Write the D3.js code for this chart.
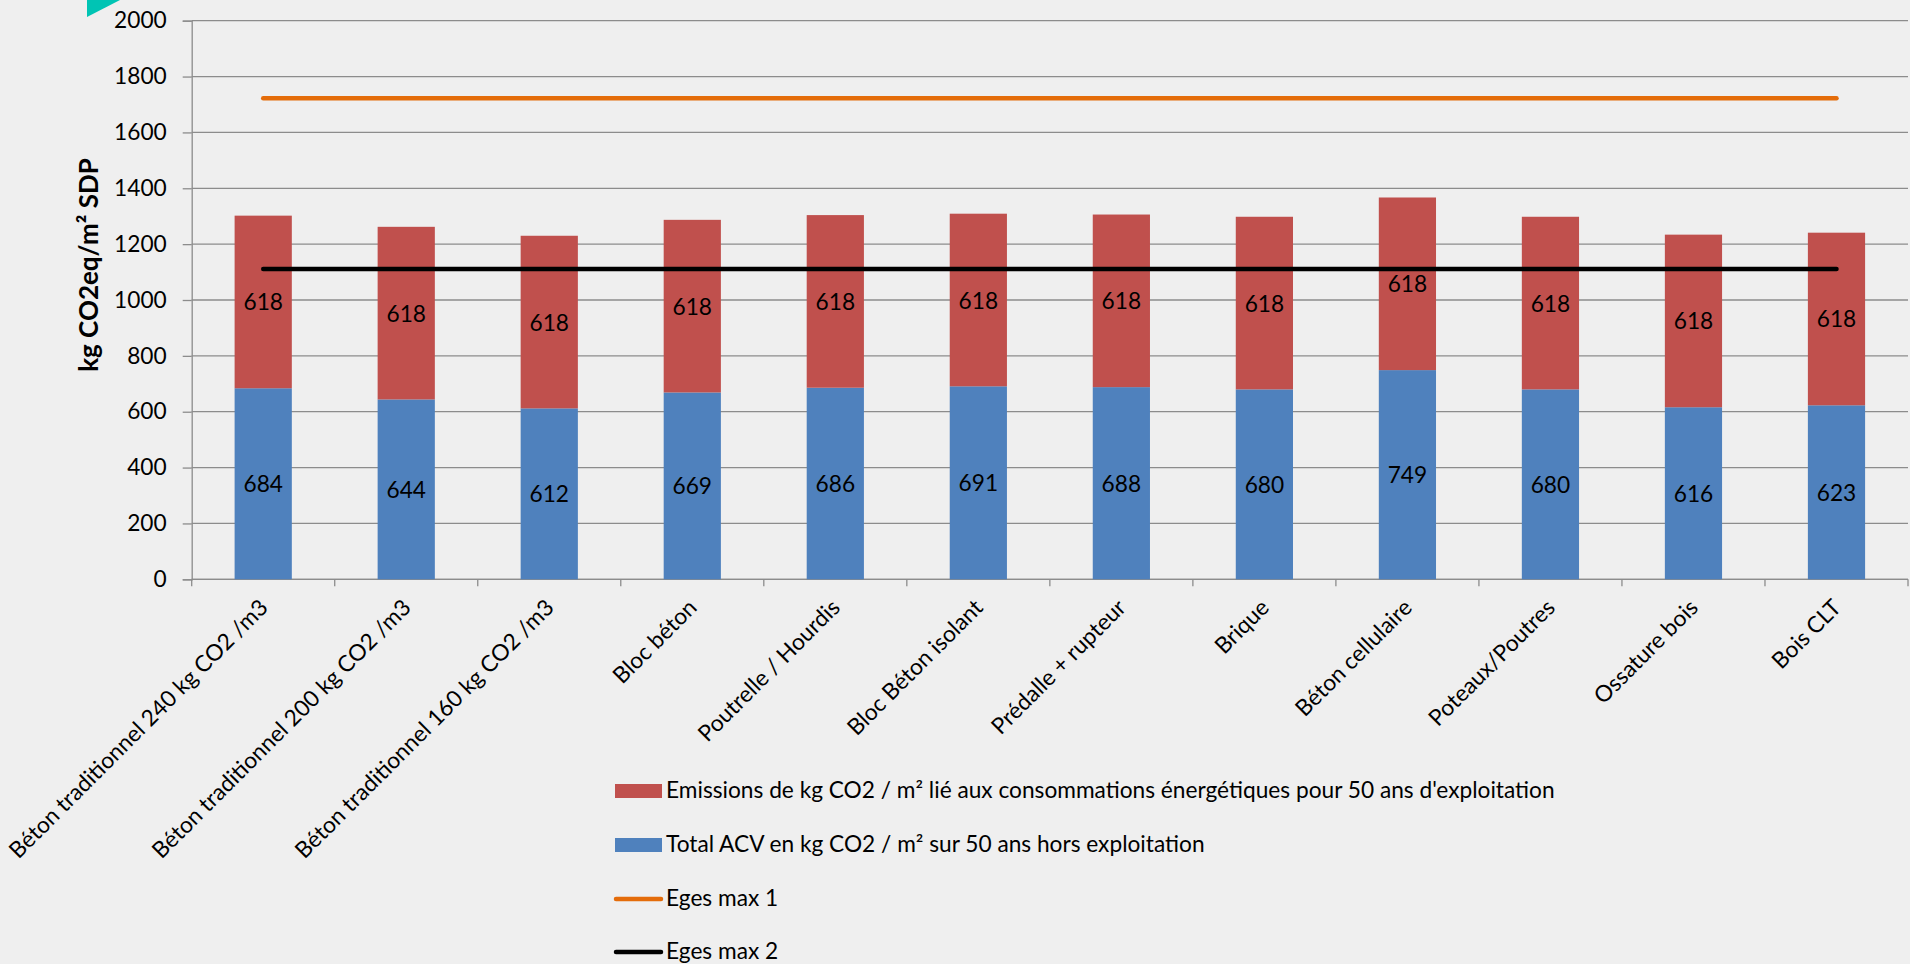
<!DOCTYPE html>
<html>
<head>
<meta charset="utf-8">
<script src="https://cdn.jsdelivr.net/npm/d3@7"></script>
<style>
  body { margin: 0; background: #efefef; }
  text { font-family: Lato, "Open Sans", sans-serif; fill: #000; }
</style>
</head>
<body>
<div class="chart"></div>
<script>
// Categories (x axis)
const categories = [
  "Béton traditionnel 240 kg CO2 /m3",
  "Béton traditionnel 200 kg CO2 /m3",
  "Béton traditionnel 160 kg CO2 /m3",
  "Bloc béton",
  "Poutrelle / Hourdis",
  "Bloc Béton isolant",
  "Prédalle + rupteur",
  "Brique",
  "Béton cellulaire",
  "Poteaux/Poutres",
  "Ossature bois",
  "Bois CLT"
];
// Stacked series
const acvValues = [684, 644, 612, 669, 686, 691, 688, 680, 749, 680, 616, 623];
const energyValues = [618, 618, 618, 618, 618, 618, 618, 618, 618, 618, 618, 618];
// Threshold lines
const egesMax1 = [1722, 1722, 1722, 1722, 1722, 1722, 1722, 1722, 1722, 1722, 1722, 1722];
const egesMax2 = [1111, 1111, 1111, 1111, 1111, 1111, 1111, 1111, 1111, 1111, 1111, 1111];
const yTicks = [0, 200, 400, 600, 800, 1000, 1200, 1400, 1600, 1800, 2000];

const seriesNames = [
  "Emissions de kg CO2 / m² lié aux consommations énergétiques pour 50 ans d'exploitation",
  "Total ACV en kg CO2 / m² sur 50 ans hors exploitation",
  "Eges max 1",
  "Eges max 2"
];
const colors = { energy: "#c0504d", acv: "#4f81bd", max1: "#e46c0a", max2: "#000000" };

const width = 1910, height = 964;
const plot = { left: 191.7, right: 1908, top: 20.7, bottom: 579.3 };
const fontSize = "22.7px";

const svg = d3.select(".chart").append("svg")
  .attr("width", width)
  .attr("height", height);

svg.append("rect")
  .attr("width", width).attr("height", height)
  .attr("fill", "#efefef");

// Small teal corner decoration
svg.append("polygon")
  .attr("points", "87,0 87,17 120,0")
  .attr("fill", "#00c4b4");

const x = d3.scaleBand()
  .domain(categories)
  .range([plot.left, plot.right])
  .paddingInner(0.6)
  .paddingOuter(0.3);
const y = d3.scaleLinear().domain([0, 2000]).range([plot.bottom, plot.top]);
const cx = d => x(d) + x.bandwidth() / 2;
const step = x.step();

// Gridlines
svg.append("g")
  .selectAll("line")
  .data(yTicks)
  .join("line")
  .attr("x1", plot.left).attr("x2", plot.right)
  .attr("y1", d => y(d)).attr("y2", d => y(d))
  .attr("stroke", "#8c8c8c")
  .attr("stroke-width", 1.3);

// Y axis
const yAxis = svg.append("g")
  .attr("transform", `translate(${plot.left},0)`)
  .call(d3.axisLeft(y).tickValues(yTicks).tickFormat(d3.format("d")).tickSize(9).tickPadding(16));
yAxis.select(".domain").attr("stroke", "#8c8c8c").attr("stroke-width", 1.3);
yAxis.selectAll(".tick line").attr("stroke", "#8c8c8c").attr("stroke-width", 1.3);
yAxis.selectAll(".tick text")
  .style("font-family", "Lato, sans-serif")
  .style("font-size", fontSize)
  .attr("fill", "#000");

// X axis line and tick marks at category boundaries
svg.append("line")
  .attr("x1", plot.left).attr("x2", plot.right)
  .attr("y1", plot.bottom).attr("y2", plot.bottom)
  .attr("stroke", "#8c8c8c").attr("stroke-width", 1.3);
svg.append("g")
  .selectAll("line")
  .data(d3.range(categories.length + 1))
  .join("line")
  .attr("x1", i => plot.left + i * step).attr("x2", i => plot.left + i * step)
  .attr("y1", plot.bottom).attr("y2", plot.bottom + 7)
  .attr("stroke", "#8c8c8c").attr("stroke-width", 1.3);

// Category labels, rotated
svg.append("g")
  .selectAll("text")
  .data(categories)
  .join("text")
  .attr("transform", d => `translate(${cx(d) - 6},597) rotate(-45)`)
  .attr("text-anchor", "end")
  .attr("dy", "0.75em")
  .style("font-size", fontSize)
  .text(d => d);

// Stacked bars
const rows = categories.map((c, i) => ({ cat: c, acv: acvValues[i], energy: energyValues[i] }));
const stack = d3.stack().keys(["acv", "energy"])(rows);

const layers = svg.append("g")
  .selectAll("g")
  .data(stack)
  .join("g")
  .attr("fill", s => colors[s.key]);

layers.selectAll("rect")
  .data(s => s)
  .join("rect")
  .attr("x", d => x(d.data.cat))
  .attr("width", x.bandwidth())
  .attr("y", d => y(d[1]))
  .attr("height", d => y(d[0]) - y(d[1]));

layers.selectAll("text")
  .data(s => s)
  .join("text")
  .attr("x", d => cx(d.data.cat))
  .attr("y", d => y((d[0] + d[1]) / 2))
  .attr("text-anchor", "middle")
  .attr("dominant-baseline", "central")
  .style("font-size", fontSize)
  .text(d => d[1] - d[0]);

// Threshold lines
const line = d3.line().x((d, i) => cx(categories[i])).y(d => y(d));
svg.append("path")
  .datum(egesMax1)
  .attr("d", line)
  .attr("fill", "none")
  .attr("stroke", colors.max1)
  .attr("stroke-width", 4.5)
  .attr("stroke-linecap", "round");
svg.append("path")
  .datum(egesMax2)
  .attr("d", line)
  .attr("fill", "none")
  .attr("stroke", colors.max2)
  .attr("stroke-width", 4.5)
  .attr("stroke-linecap", "round");

// Y axis title
svg.append("text")
  .attr("transform", "translate(88,265) rotate(-90)")
  .attr("text-anchor", "middle")
  .attr("dominant-baseline", "central")
  .style("font-size", "26px")
  .style("font-weight", "bold")
  .text("kg CO2eq/m² SDP");

// Legend
const legendY = [790, 844, 898, 951];
const legendKeys = ["energy", "acv", "max1", "max2"];
const legend = svg.append("g")
  .selectAll("g")
  .data(legendKeys)
  .join("g")
  .attr("transform", (d, i) => `translate(615,${legendY[i]})`);

legend.filter((d, i) => i < 2)
  .append("rect")
  .attr("x", 0).attr("y", -6)
  .attr("width", 47).attr("height", 14)
  .attr("fill", d => colors[d]);
legend.filter((d, i) => i >= 2)
  .append("line")
  .attr("x1", 1).attr("x2", 46)
  .attr("y1", 1).attr("y2", 1)
  .attr("stroke", d => colors[d])
  .attr("stroke-width", 4.5)
  .attr("stroke-linecap", "round");
legend.append("text")
  .attr("x", 51)
  .attr("dy", "-1")
  .attr("dominant-baseline", "central")
  .style("font-size", fontSize)
  .text((d, i) => seriesNames[i]);
</script>
</body>
</html>
